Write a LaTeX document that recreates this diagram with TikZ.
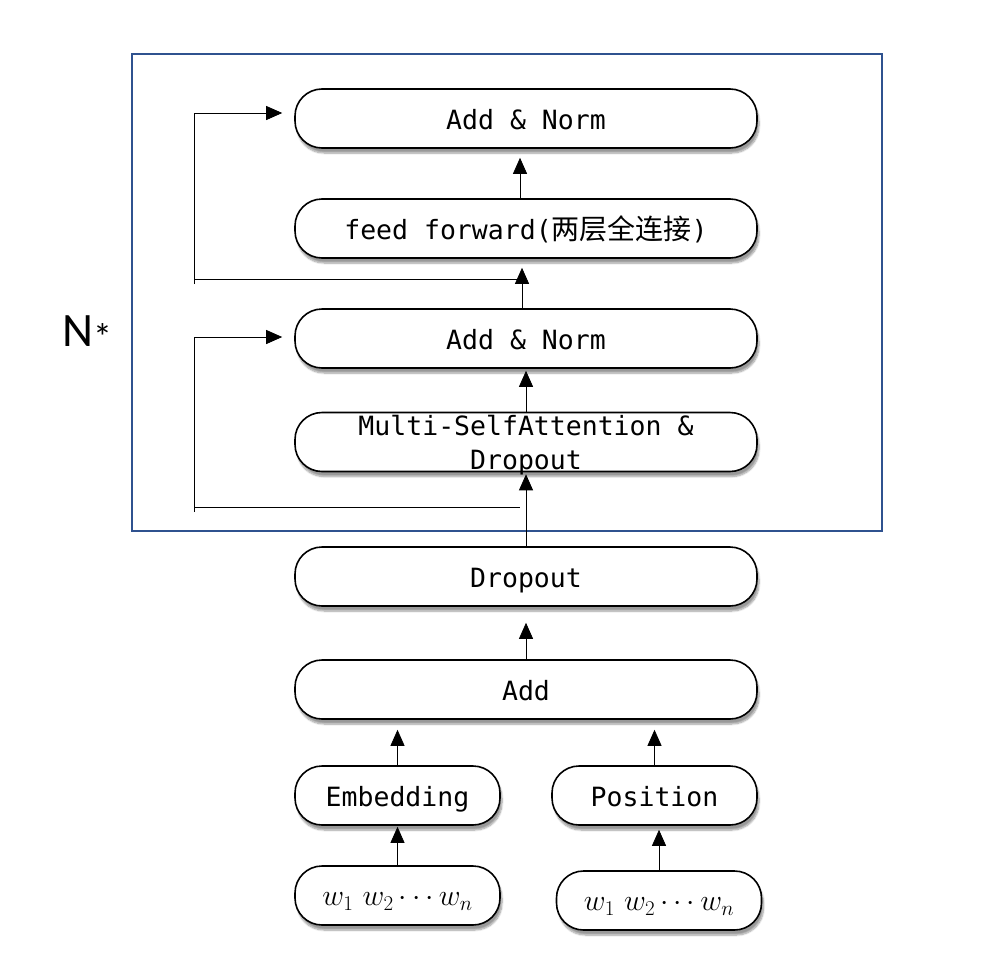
\documentclass[tikz,border=0pt]{standalone}
\usepackage{fix-cm}
\usepackage{fontspec}
\setmonofont{DejaVu Sans Mono}
\newfontfamily\cjk{Noto Sans CJK SC}
\newfontfamily\nfont{Carlito}
\usetikzlibrary{arrows.meta,shadows.blur}
\definecolor{boxblue}{RGB}{47,82,143}
\begin{document}
\begin{tikzpicture}[x=1pt,y=-1pt,
  stage/.style={draw=black, line width=1.6pt, fill=white, rounded corners=27pt,
    minimum height=59pt, inner sep=0pt, text height=21pt, text depth=0pt,
    font=\ttfamily\fontsize{26.5}{32}\selectfont,
    blur shadow={shadow xshift=2pt, shadow yshift=-5pt, shadow blur steps=8, shadow opacity=40}},
  wide/.style={stage, minimum width=462pt},
  narrow/.style={stage, minimum width=205pt},
  mathtext/.style={font=\fontsize{30}{34}\selectfont, text height=20pt},
  arr/.style={line width=0.8pt, -{Triangle[length=16pt,width=14pt]}},
  plain/.style={line width=0.8pt}]
\useasboundingbox (0,0) rectangle (1008,966);

% outer block
\node[draw=boxblue, line width=2.2pt, minimum width=750pt, minimum height=477pt, inner sep=0pt]
  (block) at (507,292.5) {};
\node[font=\nfont\fontsize{48}{52}\selectfont, inner sep=0pt, anchor=base west] (nstar) at (62,346)
  {N\raisebox{-4pt}{\fontsize{38}{38}\selectfont *}};

% stages
\node[wide] (an1) at (526,118.5) {Add \& Norm};
\node[wide] (ff) at (526,228.5) {feed forward({\cjk\fontsize{28}{32}\selectfont 两层全连接})};
\node[wide] (an2) at (526,338.5) {Add \& Norm};
\node[wide] (msa) at (526,442) {};
\node[font=\ttfamily\fontsize{26.5}{34}\selectfont, align=center, inner sep=0pt] (msatext) at (526,445)
  {Multi-SelfAttention \&\\Dropout};
\node[wide] (drop) at (526,576.5) {Dropout};
\node[wide] (add) at (526,689.5) {Add};
\node[narrow] (emb) at (397.5,795.5) {Embedding};
\node[narrow] (pos) at (654.5,795.5) {Position};
\node[narrow, mathtext] (wl) at (397.5,895.5) {$w_1\ w_2 \cdots w_n$};
\node[narrow, mathtext] (wr) at (659,900.5) {$w_1\ w_2 \cdots w_n$};

% main flow
\draw[arr, shorten >=9pt] ([xshift=-6pt]ff.north) -- ([xshift=-6pt]an1.south);
\draw[arr, shorten >=9pt] ([xshift=-4pt]an2.north) -- ([xshift=-4pt]ff.south);
\draw[arr, shorten >=2pt] (msa.north) -- (an2.south);
\draw[arr, shorten >=2pt] (drop.north) -- (msa.south);
\draw[arr, shorten >=16pt] (add.north) -- (drop.south);
\draw[arr, shorten >=10pt] (emb.north) -- (emb.north |- add.south);
\draw[arr, shorten >=10pt] (pos.north) -- (pos.north |- add.south);
\draw[arr, shorten >=1pt] (wl.north) -- (emb.south);
\draw[arr, shorten >=4pt] (wr.north) -- (wr.north |- pos.south);

% residual connections
\coordinate (r1a) at (194,284);
\coordinate (r1b) at (522,279);
\draw[plain] (194,279) -- (r1b);
\draw[arr, shorten >=12pt] (r1a) |- ([yshift=5.5pt]an1.west);
\coordinate (r2a) at (194,512);
\coordinate (r2b) at (520,507);
\draw[plain] (194,507) -- (r2b);
\draw[arr, shorten >=12pt] (r2a) |- ([yshift=1.5pt]an2.west);
\end{tikzpicture}
\end{document}
